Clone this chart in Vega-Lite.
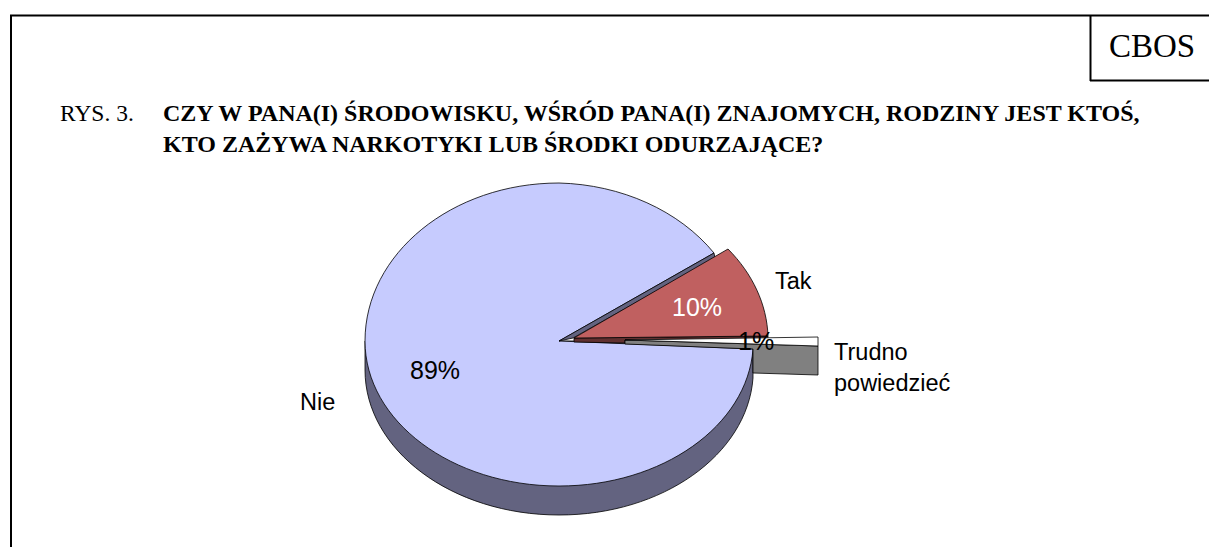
{
"$schema":"https://vega.github.io/schema/vega-lite/v6.json",
"width":1209,"height":547,"padding":0,"autosize":{"type":"none"},"background":"white",
"config":{"view":{"stroke":null},"axis":{"grid":false}},
"datasets":{"slices":[
{"answer":"Nie","share":89,"label":"89%"},
{"answer":"Tak","share":10,"label":"10%"},
{"answer":"Trudno powiedzieć","share":1,"label":"1%"}]},
"data":{"name":"slices"},
"resolve":{"scale":{"x":"independent","y":"independent","shape":"independent","fill":"independent"}},
"layer":[
{"transform":[{"filter":"datum.answer==='Nie'"}],
 "mark":{"type":"point","filled":true,"opacity":1,"size":4,"stroke":"black","strokeWidth":0.8},
 "encoding":{
  "shape":{"field":"answer","type":"nominal","legend":null,"scale":{"domain":["Nie"],"range":["M-239.5,67.5L-239.5,96.5A194,145 0 0 0 -45.5,241.5A194,145 0 0 0 148.5,104.5L148.5,67.5Z"]}},
  "fill":{"field":"answer","type":"nominal","legend":null,"scale":{"domain":["Nie"],"range":["#636380"]}}}},
{"transform":[{"filter":"datum.answer==='Nie'"}],
 "mark":{"type":"point","filled":true,"opacity":1,"size":4,"stroke":"black","strokeWidth":0.8},
 "encoding":{
  "shape":{"field":"answer","type":"nominal","legend":null,"scale":{"domain":["Nie"],"range":["M109.5,-20.5A194,158 0 0 0 -45.5,-90.5A194,158 0 0 0 -239.5,67.5A194,145 0 0 0 -45.5,212.5A194,145 0 0 0 148.5,75.5L-45.5,67.5Z"]}},
  "fill":{"field":"answer","type":"nominal","legend":null,"scale":{"domain":["Nie"],"range":["#c6cbfe"]}}}},
{"mark":{"type":"point","filled":true,"opacity":1,"size":4,"stroke":"black","strokeWidth":0.8},
 "encoding":{
  "shape":{"field":"answer","type":"nominal","legend":null,"scale":{"domain":["Nie","Tak","Trudno powiedzieć"],"range":["M109.5,-20.5L110.5,-15.5L-31.5,64.5L-45.5,67.5Z","M-30.5,64.5L163.5,62.5L163.5,65.5L20.5,66.5L20.5,69.5L-30.5,68.5Z","M20.5,66.5L213.5,72.5L213.5,101.5L148.5,99.5L148.5,75.5L20.5,70.5Z"]}},
  "fill":{"field":"answer","type":"nominal","legend":null,"scale":{"domain":["Nie","Tak","Trudno powiedzieć"],"range":["#636380","#603030","#808080"]}}}},
{"transform":[{"filter":"datum.answer!=='Nie'"}],
 "mark":{"type":"point","filled":true,"opacity":1,"size":4,"stroke":"black","strokeWidth":0.8},
 "encoding":{
  "shape":{"field":"answer","type":"nominal","legend":null,"scale":{"domain":["Tak","Trudno powiedzieć"],"range":["M-30.5,64.5L123.5,-24.5A194,150 0 0 1 163.5,62.5Z","M20.5,66.5L213.5,63.5L213.5,72.5Z"]}},
  "fill":{"field":"answer","type":"nominal","legend":null,"scale":{"domain":["Tak","Trudno powiedzieć"],"range":["#c06060","#ffffff"]}}}},
{"transform":[{"calculate":"datum.answer==='Trudno powiedzieć'?'Trudno\\npowiedzieć':datum.answer","as":"caption"}],
 "mark":{"type":"text","font":"Liberation Sans","fontSize":23.5,"align":"left","baseline":"alphabetic","lineBreak":"\n","lineHeight":31,"color":"black"},
 "encoding":{
  "x":{"field":"share","type":"quantitative","axis":null,"scale":{"domain":[1,10,89],"range":[834,775,300],"zero":false,"nice":false}},
  "y":{"field":"share","type":"quantitative","axis":null,"scale":{"domain":[1,10,89],"range":[360,289,410],"zero":false,"nice":false}},
  "text":{"field":"caption"}}},
{"mark":{"type":"text","font":"Liberation Sans","fontSize":25,"align":"left","baseline":"alphabetic"},
 "encoding":{
  "x":{"field":"share","type":"quantitative","axis":null,"scale":{"domain":[1,10,89],"range":[738,672,410],"zero":false,"nice":false}},
  "y":{"field":"share","type":"quantitative","axis":null,"scale":{"domain":[1,10,89],"range":[350,316,379],"zero":false,"nice":false}},
  "fill":{"field":"answer","type":"nominal","legend":null,"scale":{"domain":["Nie","Tak","Trudno powiedzieć"],"range":["#000000","#ffffff","#000000"]}},
  "text":{"field":"label"}}},
{"data":{"values":[{"text":"RYS. 3."}]},
 "mark":{"type":"text","font":"Liberation Serif","fontSize":23.5,"align":"left","baseline":"alphabetic","color":"black"},
 "encoding":{"x":{"value":60},"y":{"value":121},"text":{"field":"text"}}},
{"data":{"values":[{"text":"CZY W PANA(I) ŚRODOWISKU, WŚRÓD PANA(I) ZNAJOMYCH, RODZINY JEST KTOŚ,"}]},
 "mark":{"type":"text","font":"Liberation Serif","fontSize":24,"fontWeight":"bold","align":"left","baseline":"alphabetic","color":"black"},
 "encoding":{"x":{"value":163},"y":{"value":121},"text":{"field":"text"}}},
{"data":{"values":[{"text":"KTO ZAŻYWA NARKOTYKI LUB ŚRODKI ODURZAJĄCE?"}]},
 "mark":{"type":"text","font":"Liberation Serif","fontSize":24,"fontWeight":"bold","align":"left","baseline":"alphabetic","color":"black"},
 "encoding":{"x":{"value":163},"y":{"value":152},"text":{"field":"text"}}},
{"data":{"values":[{"text":"CBOS"}]},
 "mark":{"type":"text","font":"Liberation Serif","fontSize":33,"align":"left","baseline":"alphabetic","color":"black"},
 "encoding":{"x":{"value":1109},"y":{"value":57},"text":{"field":"text"}}},
{"data":{"values":[{"edge":"left"}]},"mark":{"type":"rule","color":"black","strokeWidth":2},
 "encoding":{"x":{"value":11},"y":{"value":15.5},"y2":{"value":547}}},
{"data":{"values":[{"edge":"top"}]},"mark":{"type":"rule","color":"black","strokeWidth":2},
 "encoding":{"y":{"value":15.5},"x":{"value":10},"x2":{"value":1209}}},
{"data":{"values":[{"edge":"boxLeft"}]},"mark":{"type":"rule","color":"black","strokeWidth":2},
 "encoding":{"x":{"value":1090.5},"y":{"value":15.5},"y2":{"value":81}}},
{"data":{"values":[{"edge":"boxBottom"}]},"mark":{"type":"rule","color":"black","strokeWidth":2},
 "encoding":{"y":{"value":80.5},"x":{"value":1090},"x2":{"value":1209}}}
]}
